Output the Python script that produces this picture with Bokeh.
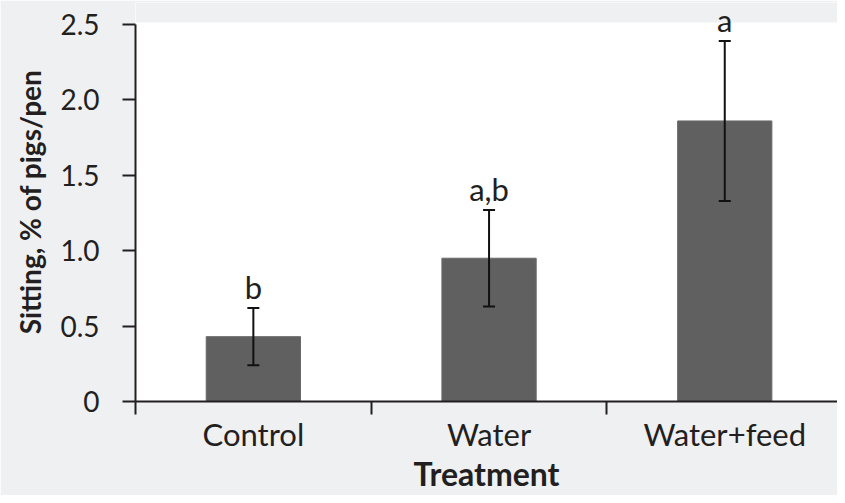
from bokeh.plotting import figure
from bokeh.models import (ColumnDataSource, Range1d, FixedTicker, LabelSet,
                          BoxAnnotation)
from bokeh.core.properties import value
from bokeh.embed import file_html
from bokeh.resources import INLINE

# ---- data ----
categories = ["Control", "Water", "Water+feed"]
means = [0.43, 0.95, 1.86]
errors = [0.19, 0.32, 0.53]
letters = ["b", "a,b", "a"]
y_ticks = [0, 0.5, 1.0, 1.5, 2.0, 2.5]
y_tick_labels = ["0", "0.5", "1.0", "1.5", "2.0", "2.5"]
x_title = "Treatment"
y_title = "Sitting, % of pigs/pen"

FONT = "Lato"
TXT = "#231f20"
BG = "#eff0f2"

xc = [i + 0.5 for i in range(len(categories))]
src = ColumnDataSource(dict(
    x=xc, top=means,
    upper=[m + e for m, e in zip(means, errors)],
    lower=[m - e for m, e in zip(means, errors)],
    lab=letters,
))

W, H = 837, 495
left, top_b, bottom_b = 135, 2, 91
cat_px = 235.7
frame_w = W - left
white_top = 2.513          # top of the white plotting area
y_end = white_top * (402 - top_b) / (402 - 22)

p = figure(width=W, height=H, output_backend="svg", toolbar_location=None,
           x_range=Range1d(0, frame_w / cat_px), y_range=Range1d(0, y_end),
           min_border_left=left, min_border_right=0, min_border_top=top_b,
           min_border_bottom=bottom_b)
p.border_fill_color = BG
p.background_fill_color = "white"
p.outline_line_color = None
p.grid.visible = False

# grey band above the white plotting area (so the top letter can overhang)
p.add_layout(BoxAnnotation(bottom=white_top, fill_color=BG, fill_alpha=1,
                           line_color=None, level="underlay"))

p.vbar(x="x", top="top", width=0.4, bottom=0, source=src,
       fill_color="#606060", line_color="#6a6a6a", line_width=1)

# error bars
p.segment(x0="x", y0="lower", x1="x", y1="upper", source=src,
          line_color="#111111", line_width=2)
p.scatter(x="x", y="upper", source=src, marker="dash", size=12,
          line_color="#111111", line_width=2)
p.scatter(x="x", y="lower", source=src, marker="dash", size=12,
          line_color="#111111", line_width=2)

labels = LabelSet(x="x", y="upper", text="lab", source=src,
                  text_font=value(FONT), text_font_size=value("31px"),
                  text_color=value(TXT), text_align="center",
                  text_baseline="alphabetic", y_offset=9)
p.add_layout(labels)

# x axis
xa = p.xaxis[0]
xa.ticker = FixedTicker(ticks=xc, minor_ticks=[0, 1, 2, 3])
xa.major_label_overrides = {x: c for x, c in zip(xc, categories)}
xa.major_tick_line_color = None
xa.major_tick_out = 13
xa.major_tick_in = 0
xa.minor_tick_out = 13
xa.minor_tick_in = 0
xa.minor_tick_line_width = 2
xa.minor_tick_line_color = TXT
xa.axis_line_width = 2
xa.axis_line_color = TXT
xa.major_label_text_font = FONT
xa.major_label_text_font_size = "31px"
xa.major_label_text_color = TXT
xa.major_label_standoff = 0
xa.axis_label = x_title
xa.axis_label_text_font = FONT
xa.axis_label_text_font_size = "32px"
xa.axis_label_text_font_style = "bold"
xa.axis_label_text_color = TXT
xa.axis_label_standoff = -2

# y axis
ya = p.yaxis[0]
ya.ticker = FixedTicker(ticks=y_ticks, minor_ticks=[])
ya.major_label_overrides = {t: l for t, l in zip(y_ticks, y_tick_labels)}
ya.bounds = (y_ticks[0], y_ticks[-1])
ya.major_tick_out = 13
ya.major_tick_in = 0
ya.major_tick_line_width = 2
ya.major_tick_line_color = TXT
ya.axis_line_width = 2
ya.axis_line_color = TXT
ya.major_label_text_font = FONT
ya.major_label_text_font_size = "28px"
ya.major_label_text_color = TXT
ya.major_label_standoff = 23
ya.axis_label = y_title
ya.axis_label_text_font = FONT
ya.axis_label_text_font_size = "28px"
ya.axis_label_text_font_style = "bold"
ya.axis_label_text_color = TXT
ya.axis_label_standoff = 10

open("out.html", "w").write(file_html(p, INLINE))
